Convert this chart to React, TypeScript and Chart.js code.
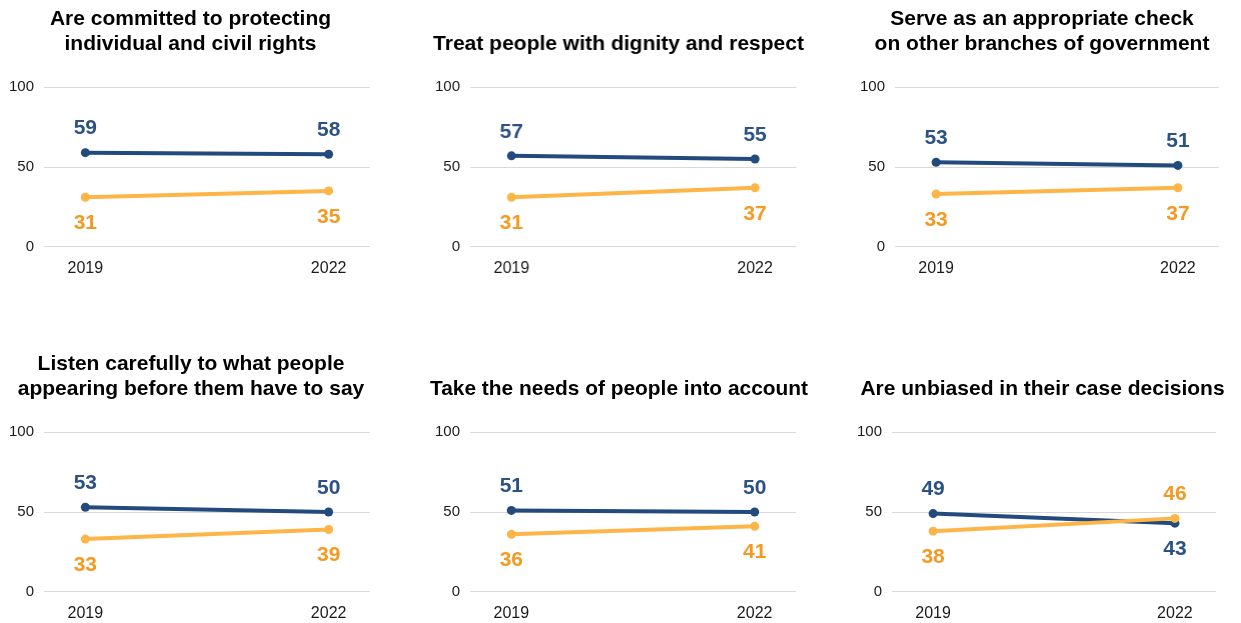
import React, { useEffect, useRef } from "react";
import { Chart, registerables } from "chart.js";

Chart.register(...registerables);

const years = ["2019", "2022"];

const titles: string[][] = [
  ["Are committed to protecting", "individual and civil rights"],
  ["Treat people with dignity and respect"],
  ["Serve as an appropriate check", "on other branches of government"],
  ["Listen carefully to what people", "appearing before them have to say"],
  ["Take the needs of people into account"],
  ["Are unbiased in their case decisions"],
];

const blueValues: number[][] = [
  [59, 58],
  [57, 55],
  [53, 51],
  [53, 50],
  [51, 50],
  [49, 43],
];

const orangeValues: number[][] = [
  [31, 35],
  [31, 37],
  [33, 37],
  [33, 39],
  [36, 41],
  [38, 46],
];

const yTicks = [0, 50, 100];

const BLUE_LINE = "#234a7c";
const BLUE_TEXT = "#2b5283";
const ORANGE_LINE = "#fdb548";
const ORANGE_TEXT = "#f49a22";
const FONT = "'Liberation Sans', Arial, sans-serif";

// layout per panel: title centre, chart left, chart right, row top
const panels = [
  { center: 190.5, left: 44, right: 370, top: 0 },
  { center: 618.3, left: 470, right: 796, top: 0 },
  { center: 1042, left: 895, right: 1219, top: 0 },
  { center: 191, left: 44, right: 370, top: 345 },
  { center: 619, left: 470, right: 796, top: 345 },
  { center: 1042.5, left: 892, right: 1216, top: 345 },
];

const Y_AXIS_W = 40;
const CANVAS_H = 292;
const CHART_TOP = 87.3;
const CHART_BOTTOM = 246.7;
const AXIS_H = 32;
const LINE_H = 25.5;

const valueLabels = {
  id: "valueLabels",
  afterDatasetsDraw(chart: any) {
    const ctx = chart.ctx;
    const d0 = chart.data.datasets[0].data as any[];
    const d1 = chart.data.datasets[1].data as any[];
    ctx.save();
    ctx.font = `bold 21px ${FONT}`;
    ctx.textAlign = "center";
    ctx.textBaseline = "middle";
    chart.data.datasets.forEach((ds: any, di: number) => {
      const meta = chart.getDatasetMeta(di);
      meta.data.forEach((pt: any, i: number) => {
        const mine = ds.data[i].y;
        const other = di === 0 ? d1[i].y : d0[i].y;
        const above = mine >= other;
        ctx.fillStyle = ds.labelColor;
        ctx.fillText(String(mine), pt.x, above ? pt.y - 24 : pt.y + 26);
      });
    });
    ctx.restore();
  },
};

function Panel({ idx }: { idx: number }) {
  const ref = useRef<HTMLCanvasElement | null>(null);
  const p = panels[idx];
  const left = p.left - Y_AXIS_W;
  const rightExtra = Math.max(0, 2 * p.center - left - p.right);
  const width = p.right + rightExtra - left;
  useEffect(() => {
    if (!ref.current) return;
    const lines = titles[idx];
    const padTop = lines.length === 2 ? 6 : 6 + LINE_H;
    const padBottom = CHART_TOP - padTop - lines.length * LINE_H;
    const chart = new Chart(ref.current, {
      type: "line",
      data: {
        datasets: [
          {
            label: "blue",
            data: blueValues[idx].map((v, i) => ({ x: i, y: v })) as any,
            borderColor: BLUE_LINE,
            backgroundColor: BLUE_LINE,
            borderWidth: 4,
            pointRadius: 4.5,
            pointBorderWidth: 0,
            order: 1,
            labelColor: BLUE_TEXT,
          } as any,
          {
            label: "orange",
            data: orangeValues[idx].map((v, i) => ({ x: i, y: v })) as any,
            borderColor: ORANGE_LINE,
            backgroundColor: ORANGE_LINE,
            borderWidth: 4,
            pointRadius: 4.5,
            pointBorderWidth: 0,
            order: 0,
            labelColor: ORANGE_TEXT,
          } as any,
        ],
      },
      options: {
        animation: false,
        responsive: false,
        maintainAspectRatio: false,
        layout: {
          padding: { left: 0, right: 0, top: 0, bottom: CANVAS_H - CHART_BOTTOM - AXIS_H },
        },
        plugins: {
          legend: { display: false },
          tooltip: { enabled: false },
          title: {
            display: true,
            text: lines,
            color: "#000000",
            font: { family: FONT, size: 21, weight: "bold", lineHeight: LINE_H / 21 },
            padding: { top: padTop, bottom: padBottom },
          },
        },
        scales: {
          x: {
            type: "linear",
            min: -0.17,
            max: 1.17,
            afterBuildTicks: (scale: any) => {
              scale.ticks = years.map((_, i) => ({ value: i }));
            },
            afterFit: (scale: any) => {
              scale.height = AXIS_H;
            },
            grid: { display: false },
            border: { display: false },
            ticks: {
              padding: 4,
              color: "#1a1a1a",
              font: { family: FONT, size: 16 },
              maxRotation: 0,
              autoSkip: false,
              callback: (v: any) => years[Number(v)] ?? "",
            },
          },
          y: {
            min: 0,
            max: 100,
            afterBuildTicks: (scale: any) => {
              scale.ticks = yTicks.map((v) => ({ value: v }));
            },
            afterFit: (scale: any) => {
              scale.width = Y_AXIS_W;
            },
            grid: { color: "#d9d9d9", lineWidth: 1, drawTicks: false },
            border: { display: false },
            ticks: {
              padding: 10,
              color: "#1a1a1a",
              font: { family: FONT, size: 15 },
            },
          },
          spacer: {
            type: "linear",
            position: "right",
            min: 0,
            max: 1,
            afterFit: (scale: any) => {
              scale.width = rightExtra;
            },
            grid: { display: false },
            border: { display: false },
            ticks: { display: false },
          },
        },
      },
      plugins: [valueLabels],
    });
    return () => chart.destroy();
  }, [idx]);
  return (
    <canvas
      ref={ref}
      width={width}
      height={CANVAS_H}
      style={{ position: "absolute", left, top: p.top, width, height: CANVAS_H }}
    />
  );
}

export default function App() {
  return (
    <div
      style={{
        position: "absolute",
        left: 0,
        top: 0,
        width: 1241,
        height: 623,
        overflow: "hidden",
        background: "#ffffff",
      }}
    >
      {panels.map((_, i) => (
        <Panel key={i} idx={i} />
      ))}
    </div>
  );
}
